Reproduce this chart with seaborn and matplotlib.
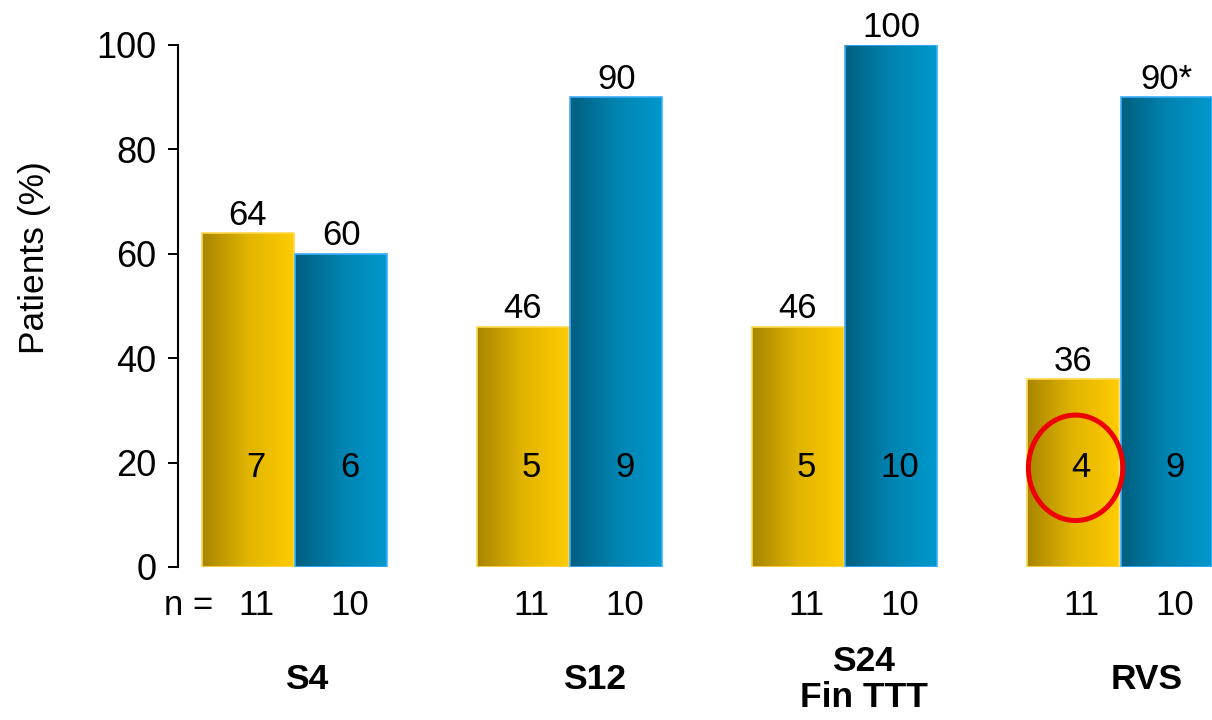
import numpy as np
import pandas as pd
import matplotlib
matplotlib.use("Agg")
import matplotlib.pyplot as plt
import seaborn as sns
from matplotlib.colors import LinearSegmentedColormap
from matplotlib.patches import Ellipse

# Data
timepoints = ["S4", "S12", "S24\nFin TTT", "RVS"]
arms = ["A", "B"]
arm_a_pct = [64, 46, 46, 36]
arm_b_pct = [60, 90, 100, 90]
arm_a_count = [7, 5, 5, 4]
arm_b_count = [6, 9, 10, 9]
arm_a_n = [11, 11, 11, 11]
arm_b_n = [10, 10, 10, 10]
arm_a_top = ["64", "46", "46", "36"]
arm_b_top = ["60", "90", "100", "90*"]
yticks = [0, 20, 40, 60, 80, 100]
highlight = ("A", 3)  # circled count: arm A at RVS

df = pd.DataFrame({
    "timepoint": timepoints * 2,
    "arm": [arms[0]] * len(timepoints) + [arms[1]] * len(timepoints),
    "pct": arm_a_pct + arm_b_pct,
})

sns.set_theme(style="white")
plt.rcParams["font.family"] = ["Liberation Sans", "DejaVu Sans"]

W, H = 1212, 720
fig = plt.figure(figsize=(W / 100, H / 100), dpi=100)
ax = fig.add_axes([178 / W, 1 - 567 / H, 1 - 178 / W, 522 / H])

sns.barplot(data=df, x="timepoint", y="pct", hue="arm", order=timepoints,
            hue_order=arms, width=0.68, gap=0.02, saturation=1,
            palette=["#FFCC00", "#0099CC"], legend=False, ax=ax)

# Horizontal gradient fills for each arm
cmaps = [
    LinearSegmentedColormap.from_list("gold", ["#A88500", "#E0B400", "#FFCC00"]),
    LinearSegmentedColormap.from_list("teal", ["#005F80", "#0083B0", "#0099CC"]),
]
edges = ["#FFD84D", "#3AAEFF"]
grad = np.linspace(0, 1, 256).reshape(1, -1)

counts = [arm_a_count, arm_b_count]
ns = [arm_a_n, arm_b_n]
tops = [arm_a_top, arm_b_top]

for k, cont in enumerate(ax.containers):
    for i, bar in enumerate(cont):
        x0, w, h = bar.get_x(), bar.get_width(), bar.get_height()
        bar.set_facecolor("none")
        bar.set_edgecolor(edges[k])
        bar.set_linewidth(1.2)
        bar.set_zorder(3)
        im = ax.imshow(grad, cmap=cmaps[k], aspect="auto", interpolation="bicubic",
                       extent=[x0, x0 + w, 0, h], zorder=2)
        im.set_clip_path(bar)
        cx = x0 + w / 2
        # value above the bar
        ax.annotate(tops[k][i], (cx, h), xytext=(0, 1), textcoords="offset points",
                    ha="center", va="bottom", fontsize=25, color="black",
                    annotation_clip=False)
        # responder count inside the bar
        ax.annotate(str(counts[k][i]), (cx, 19), xytext=(6, 0),
                    textcoords="offset points", ha="center", va="center",
                    fontsize=25, color="black", zorder=5)
        # group size under the bar
        ax.annotate(str(ns[k][i]), (cx, -7.3), xytext=(6, 0),
                    textcoords="offset points", ha="center", va="center",
                    fontsize=25, color="black", annotation_clip=False)
        if (arms[k], i) == highlight:
            ax.add_patch(Ellipse((cx + 0.01, 19), width=w * 1.03, height=20.2,
                                 fill=False, edgecolor="#EE0000", lw=3.6,
                                 zorder=6, clip_on=False))

ax.text(-0.296, -7.3, "n =", ha="right", va="center", fontsize=25, color="black")

label_dx = [0.045, 0.09, 0.07, 0.1]
for i, lab in enumerate(timepoints):
    ax.text(i + label_dx[i], -21.6, lab, ha="center", va="center", fontsize=25.5,
            fontweight="bold", color="black", linespacing=1.1)

ax.set_xlim(-0.4236, 3.336)
ax.set_ylim(0, 100)
ax.set_yticks(yticks)
ax.set_yticklabels([str(t) for t in yticks])
ax.tick_params(axis="y", direction="out", length=7.5, width=1.4, pad=8,
               labelsize=26, colors="black", left=True)
ax.tick_params(axis="x", bottom=False, labelbottom=False)
ax.set_xlabel("")
ax.set_ylabel("Patients (%)", fontsize=25.5, color="black")
ax.yaxis.set_label_coords(-0.123, 0.592)
for s in ["top", "right", "bottom"]:
    ax.spines[s].set_visible(False)
ax.spines["left"].set_linewidth(1.5)
ax.spines["left"].set_color("black")
ax.set_facecolor("white")
fig.patch.set_facecolor("white")

fig.savefig("out.png", dpi=100, facecolor="white")
